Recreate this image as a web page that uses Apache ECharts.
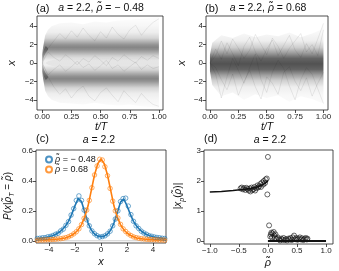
<!DOCTYPE html>
<html><head><meta charset="utf-8">
<script src="https://cdn.jsdelivr.net/npm/echarts@6/dist/echarts.min.js"></script>
<style>html,body{margin:0;padding:0;background:#fff}#c{width:339px;height:271px}</style>
</head><body><div id="c"></div>
<script>
// ---------- Panel (a): trajectory density, rho = -0.48 ----------
const timeA = [0, 0.01, 0.025, 0.05, 0.08, 0.15, 0.25, 0.35, 0.45, 0.55, 0.65, 0.75, 0.85, 0.95, 1.0];
const aUpperLo = [-0.1,-0.1,0.0,-0.2,-0.3,-0.45,-0.5,-0.4,-0.55,-0.5,-0.55,-0.5,-0.6,-0.6,-0.6];
const aUpperHi = [1.1,1.9,3.0,3.6,4.0,4.3,4.4,4.2,4.5,4.4,4.6,4.7,4.8,4.95,5.0];
const aLowerLo = [-1.1,-1.9,-3.0,-3.6,-4.0,-4.3,-4.4,-4.5,-4.3,-4.5,-4.6,-4.5,-4.7,-4.8,-4.9];
const aLowerHi = [0.1,0.1,0.0,0.2,0.3,0.45,0.5,0.45,0.5,0.55,0.5,0.55,0.6,0.55,0.6];
const aUpperProfX = [-0.9,-0.3,0.3,0.8,1.15,1.45,1.7,1.95,2.25,2.7,3.3,4.0,4.8];
const aLowerProfX = [0.9,0.3,-0.3,-0.8,-1.15,-1.45,-1.7,-1.95,-2.25,-2.7,-3.3,-4.0,-4.8];
const aProfDensity = [0,0.07,0.15,0.4,0.68,0.9,1.0,0.9,0.68,0.34,0.15,0.07,0.02];
const aStartT = [0, 0.005, 0.015, 0.03, 0.05];
const aStartUpLo = [0.0, 0.25, 0.7, 1.1, 1.5];
const aStartUpHi = [0.9, 1.15, 1.5, 1.85, 1.6];
const aStartLowLo = [-0.9, -1.15, -1.5, -1.85, -1.6];
const aStartLowHi = [0.0, -0.25, -0.7, -1.1, -1.5];
// a few individual trajectories (visible as faint streaks)
const trajT = [0,0.05,0.1,0.15,0.2,0.25,0.3,0.35,0.4,0.45,0.5,0.55,0.6,0.65,0.7,0.75,0.8,0.85,0.9,0.95,1.0];
const trajA = [
  [0,1.6,2.4,3.2,2.6,3.5,2.8,3.8,3.0,2.4,3.4,2.7,3.9,3.1,2.6,3.6,4.1,3.0,3.8,4.4,4.8],
  [0,-1.5,-2.6,-3.4,-2.8,-3.8,-3.0,-2.5,-3.6,-4.1,-3.2,-2.7,-3.5,-4.2,-3.0,-3.7,-4.3,-3.3,-4.0,-4.5,-4.7],
  [0,1.2,0.6,0.2,0.9,0.4,-0.2,0.5,0.1,0.8,0.3,-0.3,0.6,0.2,0.9,0.4,0.0,0.7,0.3,0.8,0.5],
  [0,-1.3,-0.7,-0.2,-0.9,-0.4,0.2,-0.5,-0.1,-0.8,-0.3,0.3,-0.6,-0.2,-0.9,-0.4,0.1,-0.7,-0.2,-0.6,-0.4]
];

// ---------- Panel (b): trajectory density, rho = 0.68 ----------
const timeB = [0, 0.02, 0.1, 0.2, 0.3, 0.4, 0.5, 0.6, 0.7, 0.8, 0.9, 0.98, 1.0];
const bLo = [-0.9,-2.4,-3.6,-3.2,-4.0,-3.4,-3.8,-3.5,-4.2,-3.6,-3.9,-4.3,-4.3];
const bHi = [0.9,2.2,3.0,2.7,3.2,2.8,3.1,2.9,3.3,2.8,3.2,3.6,4.2];
const bProfX = [-4.5,-3.5,-2.6,-1.9,-1.3,-0.7,-0.1,0.5,1.1,1.7,2.4,3.3,4.3];
const bProfDensity = [0.02,0.04,0.1,0.28,0.56,0.9,1.0,0.9,0.56,0.28,0.1,0.04,0.02];
const trajB = [
  [0,-1.2,-3.8,-1.5,0.5,-0.8,-2.2,-0.5,1.0,-1.8,-3.2,-1.0,0.3,-0.6,-2.5,-4.0,-1.8,-0.5,-1.2,-2.8,-4.4],
  [0,1.5,0.4,2.2,1.0,-0.3,1.8,2.8,1.2,0.2,1.5,2.5,0.8,1.9,3.0,1.4,0.6,2.1,1.0,2.6,4.3],
  [0,-0.5,-1.8,-2.9,-1.2,-3.5,-2.0,-0.8,-2.6,-3.9,-1.5,-2.2,-3.4,-1.0,-0.4,-2.0,-3.0,-1.6,-3.6,-2.2,-1.0],
  [0,0.8,2.4,1.0,2.6,1.6,0.5,1.4,3.1,2.0,0.9,2.7,1.8,0.5,1.6,2.4,3.2,1.2,2.0,0.8,3.6]
];

// ---------- Panel (c): P(x | rho) ----------
const xLine = [-5,-4.75,-4.5,-4.25,-4,-3.75,-3.5,-3.25,-3,-2.75,-2.5,-2.25,-2,-1.75,-1.5,-1.25,-1,-0.75,-0.5,-0.25,0,
  0.25,0.5,0.75,1,1.25,1.5,1.75,2,2.25,2.5,2.75,3,3.25,3.5,3.75,4,4.25,4.5,4.75,5];
const blueLine = [0.014,0.016,0.019,0.022,0.027,0.033,0.042,0.055,0.072,0.097,0.13,0.178,0.235,0.283,0.262,0.19,0.12,0.072,0.045,0.031,0.027,
  0.031,0.045,0.072,0.12,0.188,0.258,0.28,0.234,0.178,0.13,0.097,0.072,0.055,0.042,0.033,0.027,0.022,0.019,0.016,0.014];
const orangeLine = [0.004,0.005,0.005,0.006,0.007,0.008,0.01,0.012,0.015,0.019,0.027,0.037,0.052,0.074,0.108,0.16,0.232,0.335,0.44,0.515,0.548,
  0.515,0.44,0.335,0.232,0.16,0.108,0.074,0.052,0.037,0.027,0.019,0.015,0.012,0.01,0.008,0.007,0.006,0.005,0.005,0.004];
const xPts = [-4.9,-4.7,-4.5,-4.3,-4.1,-3.9,-3.7,-3.5,-3.3,-3.1,-2.9,-2.7,-2.5,-2.3,-2.1,-1.9,-1.7,-1.5,-1.3,-1.1,-0.9,-0.7,-0.5,-0.3,-0.1,
  0.1,0.3,0.5,0.7,0.9,1.1,1.3,1.5,1.7,1.9,2.1,2.3,2.5,2.7,2.9,3.1,3.3,3.5,3.7,3.9,4.1,4.3,4.5,4.7,4.9];
const bluePts = [0.015,0.017,0.02,0.021,0.026,0.029,0.035,0.043,0.05,0.066,0.078,0.103,0.128,0.172,0.215,0.27,0.3,0.27,0.205,0.14,0.1,0.066,0.047,0.034,0.025,
  0.028,0.033,0.046,0.064,0.1,0.145,0.2,0.262,0.282,0.285,0.232,0.175,0.13,0.1,0.082,0.064,0.052,0.043,0.034,0.03,0.025,0.022,0.02,0.017,0.015];
const orangePts = [0.004,0.005,0.005,0.006,0.007,0.008,0.009,0.01,0.012,0.014,0.017,0.021,0.027,0.035,0.046,0.06,0.08,0.108,0.15,0.205,0.27,0.355,0.44,0.5,0.545,
  0.54,0.495,0.435,0.35,0.265,0.2,0.152,0.11,0.08,0.062,0.046,0.035,0.026,0.021,0.017,0.014,0.012,0.01,0.009,0.008,0.007,0.006,0.005,0.005,0.004];
const zeroLineX = [-5, 5];
const zeroLineY = [0, 0];

// ---------- Panel (d): |x_p(rho)| ----------
const dLineX1 = [-1, -0.8, -0.6, -0.4, -0.3, -0.2, -0.1, -0.05, 0];
const dLineY1 = [1.63, 1.65, 1.68, 1.72, 1.75, 1.79, 1.86, 1.92, 2.0];
const dLineX2 = [0, 1.0];
const dLineY2 = [0, 0];
const dPtsX = [-0.47,-0.45,-0.43,-0.41,-0.39,-0.37,-0.35,-0.33,-0.31,-0.3,-0.28,-0.27,-0.25,-0.23,-0.22,-0.2,-0.18,-0.17,-0.15,-0.13,-0.12,-0.1,-0.08,-0.07,-0.05,-0.04,-0.02,
  0.0,-0.01,0.02,
  0.04,0.05,0.06,0.07,0.08,0.1,0.11,0.12,0.13,0.15,0.17,0.19,0.21,0.23,0.25,0.27,0.29,0.31,0.33,0.35,0.37,0.39,0.41,0.43,0.45,0.47,0.49,0.51,0.53,0.55,0.57,0.59,0.61,0.63,0.65,0.67,0.68];
const dPtsY = [1.75,1.78,1.72,1.76,1.7,1.77,1.73,1.68,1.75,1.65,1.78,1.7,1.72,1.8,1.68,1.76,1.85,1.78,1.82,1.9,1.8,1.95,1.88,2.0,1.93,2.05,2.08,
  2.8,1.55,0.52,
  0.15,0.22,0.28,0.12,0.25,0.3,0.18,0.1,0.22,0.08,0.12,0.05,0.02,0.08,0.04,0.1,0.03,0.06,0.02,0.08,0.05,0.1,0.03,0.12,0.18,0.06,0.1,0.04,0.08,0.12,0.05,0.09,0.03,0.07,0.1,0.05,0.08];

// ---------- styles ----------
const FONT = 'Liberation Sans, Arial, sans-serif';
const BLUE = '#1f77b4', ORANGE = '#ff7f0e';
const A_MAX_ALPHA = 0.48, B_MAX_ALPHA = 0.68, START_ALPHA = 0.3, TRAJ_COLOR = 'rgba(0,0,0,0.08)';

function zip(xs, ys) { return xs.map((x, i) => [x, ys[i]]); }
function fmt(v, d) { return Number(v).toFixed(d).replace('-', '\u2212'); }

function axis(gi, min, max, ticks, d) {
  return {
    type: 'value', gridIndex: gi, min: min, max: max,
    axisLine: { show: false, onZero: false }, splitLine: { show: false },
    axisTick: { show: true, length: 3, customValues: ticks, lineStyle: { color: '#222', width: 0.8 } },
    axisLabel: { customValues: ticks, fontSize: 8, fontFamily: FONT, color: '#222', margin: 3,
      formatter: v => fmt(v, d) }
  };
}

function bandSeries(gi, bands, yMin, yMax) {
  return {
    type: 'custom', xAxisIndex: gi, yAxisIndex: gi, silent: true, clip: true,
    data: bands.map((b, i) => [0, 0, i]),
    encode: { x: 0, y: 1 },
    renderItem: function (params, api) {
      const b = bands[api.value(2)];
      const top = b.t.map((t, k) => api.coord([t, b.hi[k]]));
      const bot = b.t.map((t, k) => api.coord([t, b.lo[k]])).reverse();
      let fill;
      if (b.profX) {
        const y0 = api.coord([0, yMax])[1], y1 = api.coord([0, yMin])[1];
        const stops = b.profX.map((x, i) => ({
          offset: Math.min(1, Math.max(0, (api.coord([0, x])[1] - y0) / (y1 - y0))),
          color: 'rgba(0,0,0,' + (b.dens[i] * b.maxA).toFixed(3) + ')'
        })).sort((p, q) => p.offset - q.offset);
        fill = { type: 'linear', x: 0, y: y0, x2: 0, y2: y1, global: true, colorStops: stops };
      } else {
        fill = 'rgba(0,0,0,' + b.alpha + ')';
      }
      return { type: 'polygon', shape: { points: top.concat(bot) }, style: { fill: fill, stroke: null } };
    }
  };
}

function trajSeries(gi, trajs) {
  return trajs.map(tr => ({
    type: 'line', xAxisIndex: gi, yAxisIndex: gi, data: zip(trajT, tr), showSymbol: false, silent: true,
    lineStyle: { color: TRAJ_COLOR, width: 1 }, z: 1
  }));
}

const bandsA = [
  { t: timeA, lo: aUpperLo, hi: aUpperHi, profX: aUpperProfX, dens: aProfDensity, maxA: A_MAX_ALPHA },
  { t: timeA, lo: aLowerLo, hi: aLowerHi, profX: aLowerProfX, dens: aProfDensity, maxA: A_MAX_ALPHA },
  { t: aStartT, lo: aStartUpLo, hi: aStartUpHi, alpha: START_ALPHA },
  { t: aStartT, lo: aStartLowLo, hi: aStartLowHi, alpha: START_ALPHA }
];
const bandsB = [
  { t: timeB, lo: bLo, hi: bHi, profX: bProfX, dens: bProfDensity, maxA: B_MAX_ALPHA }
];

const ITAL = { fontStyle: 'italic', fontFamily: FONT };
function txt(x, y, text, size, opts) {
  opts = opts || {};
  const it = Object.assign({}, ITAL, { fontSize: size });
  const sub = Object.assign({}, ITAL, { fontSize: size * 0.7, verticalAlign: 'bottom', lineHeight: size * 1.6 });
  return {
    type: 'text', x: x, y: y, rotation: opts.rot || 0, silent: true,
    style: { text: text, fontSize: size, fontFamily: FONT, fill: '#111',
      align: opts.align || 'center', verticalAlign: 'middle',
      rich: { i: it, s: sub } }
  };
}

const RHO = '\u03c1\u0303';

const chart = echarts.init(document.getElementById('c'), null, { renderer: 'canvas' });
chart.setOption({
  animation: false,
  backgroundColor: '#fff',
  grid: [
    { left: 37, top: 16, width: 126, height: 94, show: true, borderColor: '#222', borderWidth: 0.8 },
    { left: 206, top: 16, width: 122, height: 94, show: true, borderColor: '#222', borderWidth: 0.8 },
    { left: 36, top: 150, width: 130, height: 93, show: true, borderColor: '#222', borderWidth: 0.8 },
    { left: 204, top: 150, width: 129, height: 94, show: true, borderColor: '#222', borderWidth: 0.8 }
  ],
  xAxis: [
    axis(0, -0.045, 1.035, [0, 0.25, 0.5, 0.75, 1], 2),
    axis(1, -0.035, 1.04, [0, 0.25, 0.5, 0.75, 1], 2),
    axis(2, -5, 5, [-4, -2, 0, 2, 4], 0),
    axis(3, -1.1, 1.12, [-1, -0.5, 0, 0.5, 1], 1)
  ],
  yAxis: [
    axis(0, -5.1, 5.1, [-4, -2, 0, 2, 4], 0),
    axis(1, -5.1, 5.1, [-4, -2, 0, 2, 4], 0),
    axis(2, -0.015, 0.607, [0, 0.2, 0.4, 0.6], 1),
    axis(3, -0.1, 3.03, [0, 1, 2, 3], 0)
  ],
  legend: {
    left: 40, top: 150, orient: 'vertical', itemWidth: 6, itemHeight: 6, itemGap: 1,
    data: ['neg', 'pos'],
    formatter: n => n === 'neg' ? '{i|' + RHO + '} = \u2212 0.48' : '{i|' + RHO + '} = 0.68',
    textStyle: { fontSize: 9, fontFamily: FONT, color: '#111', padding: [0, 0, 0, -2],
      rich: { i: { fontStyle: 'italic', fontSize: 9, fontFamily: FONT } } }
  },
  series: [
    bandSeries(0, bandsA, -5.1, 5.1),
    bandSeries(1, bandsB, -5.1, 5.1),
    ...trajSeries(0, trajA),
    ...trajSeries(1, trajB),
    { type: 'line', xAxisIndex: 2, yAxisIndex: 2, data: zip(zeroLineX, zeroLineY), showSymbol: false, silent: true,
      lineStyle: { color: '#cfcfcf', width: 1 }, z: 1 },
    { name: 'negLine', type: 'line', xAxisIndex: 2, yAxisIndex: 2, data: zip(xLine, blueLine), showSymbol: false,
      lineStyle: { color: BLUE, width: 1.6 }, itemStyle: { color: BLUE }, z: 2 },
    { name: 'posLine', type: 'line', xAxisIndex: 2, yAxisIndex: 2, data: zip(xLine, orangeLine), showSymbol: false,
      lineStyle: { color: ORANGE, width: 1.6 }, itemStyle: { color: ORANGE }, z: 2 },
    { name: 'neg', type: 'scatter', xAxisIndex: 2, yAxisIndex: 2, data: zip(xPts, bluePts), symbol: 'circle', symbolSize: 4.5,
      itemStyle: { color: 'rgba(0,0,0,0)', borderColor: BLUE, borderWidth: 0.8 }, z: 3 },
    { name: 'pos', type: 'scatter', xAxisIndex: 2, yAxisIndex: 2, data: zip(xPts, orangePts), symbol: 'circle', symbolSize: 4.5,
      itemStyle: { color: 'rgba(0,0,0,0)', borderColor: ORANGE, borderWidth: 0.8 }, z: 3 },
    { type: 'line', xAxisIndex: 3, yAxisIndex: 3, data: zip(dLineX1, dLineY1), showSymbol: false,
      lineStyle: { color: '#111', width: 1.5 }, z: 2 },
    { type: 'line', xAxisIndex: 3, yAxisIndex: 3, data: zip(dLineX2, dLineY2), showSymbol: false,
      lineStyle: { color: '#111', width: 2 }, z: 2 },
    { type: 'scatter', xAxisIndex: 3, yAxisIndex: 3, data: zip(dPtsX, dPtsY), symbol: 'circle', symbolSize: 5,
      itemStyle: { color: 'rgba(0,0,0,0)', borderColor: '#111', borderWidth: 0.8 }, z: 3 }
  ],
  graphic: [
    txt(36, 8.5, '(a)', 11, { align: 'left' }),
    txt(101, 8.5, '{i|a} = 2.2, {i|' + RHO + '} = \u2212 0.48', 10.5),
    txt(205, 8.5, '(b)', 11, { align: 'left' }),
    txt(268, 8.5, '{i|a} = 2.2, {i|' + RHO + '} = 0.68', 10.5),
    txt(36, 139, '(c)', 11, { align: 'left' }),
    txt(99, 140, '{i|a} = 2.2', 10.5),
    txt(204, 139, '(d)', 11, { align: 'left' }),
    txt(270, 140, '{i|a} = 2.2', 10.5),
    txt(12, 63, '{i|x}', 11, { rot: Math.PI / 2 }),
    txt(101, 127.5, '{i|t/T}', 10.5),
    txt(182, 63, '{i|x}', 11, { rot: Math.PI / 2 }),
    txt(267, 127.5, '{i|t/T}', 10.5),
    txt(8, 196, '{i|P}(' + '{i|x}|{i|' + RHO + '}{s|T} = {i|' + RHO + '})', 10, { rot: Math.PI / 2 }),
    txt(101, 262, '{i|x}', 11),
    txt(178, 196, '|{i|x}{s|p}(' + '{i|' + RHO + '})|', 10, { rot: Math.PI / 2 }),
    txt(268, 263, '{i|' + RHO + '}', 11)
  ]
});
</script></body></html>
